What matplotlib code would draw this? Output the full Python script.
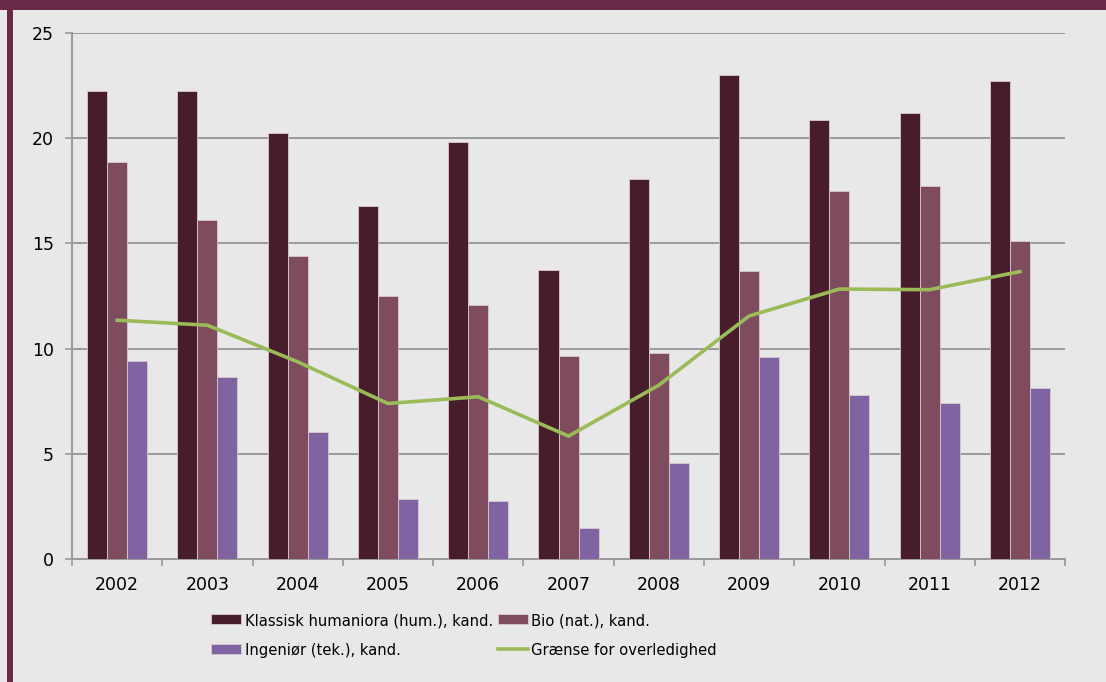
import numpy as np
import matplotlib
matplotlib.use('Agg')
import matplotlib.pyplot as plt
from matplotlib.patches import Rectangle

aar = ['2002', '2003', '2004', '2005', '2006', '2007', '2008', '2009', '2010', '2011', '2012']
hum = [22.25, 22.25, 20.27, 16.77, 19.83, 13.75, 18.05, 23.01, 20.87, 21.2, 22.74]
bio = [18.86, 16.11, 14.39, 12.5, 12.09, 9.64, 9.77, 13.7, 17.5, 17.72, 15.13]
ing = [9.43, 8.63, 6.05, 2.84, 2.74, 1.46, 4.55, 9.61, 7.77, 7.39, 8.12]
graense = [11.35, 11.11, 9.37, 7.39, 7.71, 5.84, 8.26, 11.55, 12.83, 12.8, 13.66]

navne = ['Klassisk humaniora (hum.), kand.', 'Bio (nat.), kand.',
         'Ingeniør (tek.), kand.', 'Grænse for overledighed']

bg = '#e8e8e8'
gitter = '#999999'

fig = plt.figure(figsize=(11.06, 6.82), dpi=100, facecolor=bg)
ax = fig.add_axes([0.0651, 0.1804, 0.8979, 0.7712])
ax.set_facecolor(bg)

# rammen i toppen og til venstre
fig.patches.append(Rectangle((0, 1 - 10/682), 1, 10/682, transform=fig.transFigure,
                             facecolor='#6b2a48', edgecolor='none', zorder=0))
fig.patches.append(Rectangle((7/1106, 0), 6/1106, 1, transform=fig.transFigure,
                             facecolor='#6b2a48', edgecolor='none', zorder=0))

x = np.arange(len(aar))
b = 0.222
kant = dict(edgecolor='#d9c9d1', linewidth=0.6, zorder=3)
b1 = ax.bar(x - b, hum, b, color='#471c2b', **kant)
b2 = ax.bar(x, bio, b, color='#7e4c5e', **kant)
b3 = ax.bar(x + b, ing, b, color='#8064a2', **kant)
l1, = ax.plot(x, graense, color='#9bbb59', lw=2.6, zorder=4, solid_joinstyle='miter')

ax.set_xlim(-0.5, len(aar) - 0.5)
ax.set_ylim(0, 25)
ax.set_yticks([0, 5, 10, 15, 20, 25])
ax.yaxis.grid(True, color=gitter, lw=1.4, zorder=0)
ax.set_axisbelow(True)

ax.set_xticks(np.arange(-0.5, len(aar)), minor=False)
ax.set_xticklabels([])
ax.set_xticks(x, minor=True)
ax.set_xticklabels(aar, minor=True)
ax.tick_params(axis='x', which='major', length=5, width=1.2, color=gitter, direction='out')
ax.tick_params(axis='x', which='minor', length=0, pad=12, labelsize=12.5)
ax.tick_params(axis='y', length=5, width=1.2, color=gitter, pad=8, labelsize=12.5)

for s in ['top', 'right']:
    ax.spines[s].set_visible(False)
for s in ['left', 'bottom']:
    ax.spines[s].set_color(gitter)
    ax.spines[s].set_linewidth(1.4)

# kolonnevis: Klassisk, Ingeniør | Bio, Grænse
leg = fig.legend([b1, b3, b2, l1], [navne[0], navne[2], navne[1], navne[3]], ncol=2,
                 loc='upper left', bbox_to_anchor=(211/1106, 1 - 613/682),
                 frameon=False,
                 prop={'family': 'DejaVu Sans', 'stretch': 'condensed', 'size': 11.8},
                 handlelength=1.85, handleheight=0.6,
                 handletextpad=0.2, columnspacing=0.3, labelspacing=0.9,
                 borderaxespad=0, borderpad=0)

fig.savefig('out.png', dpi=100, facecolor=bg)
